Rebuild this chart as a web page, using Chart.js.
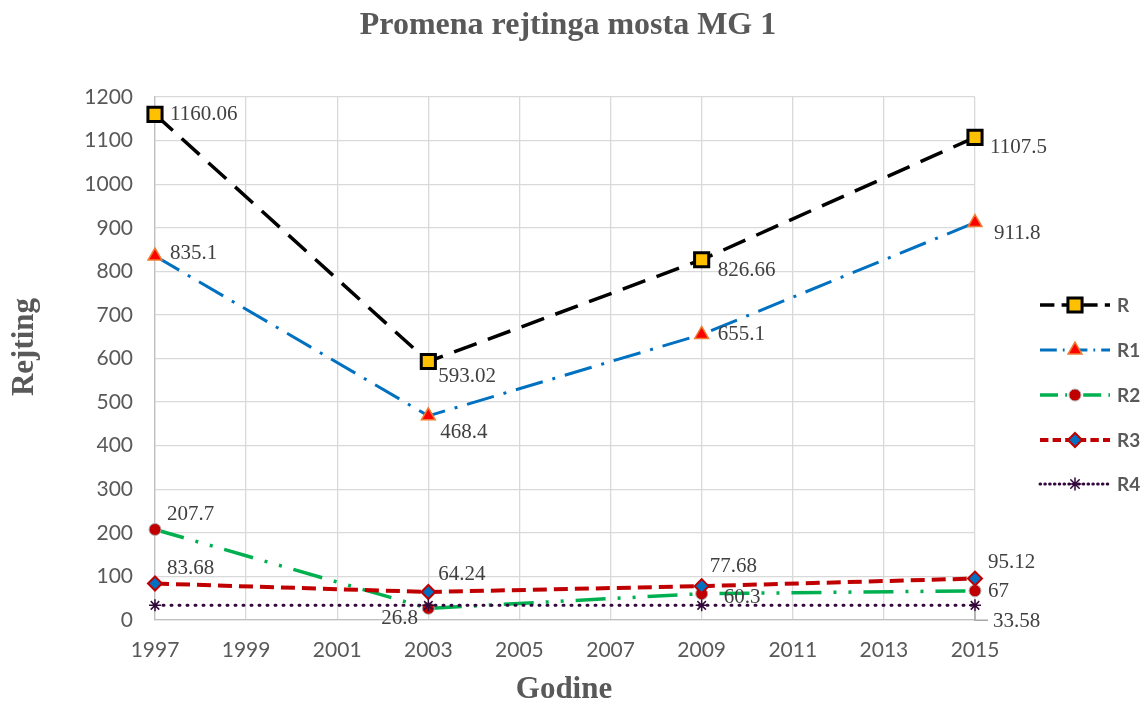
<!DOCTYPE html>
<html>
<head>
<meta charset="utf-8">
<script src="https://cdn.jsdelivr.net/npm/chart.js@4.4.1/dist/chart.umd.min.js"></script>
<style>
  html, body { margin: 0; padding: 0; background: #fff; }
  #wrap { width: 1147px; height: 706px; }
</style>
</head>
<body>
<div id="wrap"><canvas id="rejtingChart"></canvas></div>
<script>
// podaci
const godine = [1997, 2003, 2009, 2015];
const seriesR = [1160.06, 593.02, 826.66, 1107.5];
const seriesR1 = [835.1, 468.4, 655.1, 911.8];
const seriesR2 = [207.7, 26.8, 60.3, 67];
const seriesR3 = [83.68, 64.24, 77.68, 95.12];
const seriesR4 = [33.58, 33.58, 33.58, 33.58];
const seriesNames = ['R', 'R1', 'R2', 'R3', 'R4'];
const yTicks = [0, 100, 200, 300, 400, 500, 600, 700, 800, 900, 1000, 1100, 1200];
const xTicks = [1997, 1999, 2001, 2003, 2005, 2007, 2009, 2011, 2013, 2015];

const naslov = 'Promena rejtinga mosta MG 1';
const xNaslov = 'Godine';
const yNaslov = 'Rejting';

const gray = '#595959';
const serif = '"Liberation Serif", "Times New Roman", serif';

function toPoints(values) {
  return values.map((v, i) => ({ x: godine[i], y: v }));
}

// label offsets (dx, dy from point), null = no label
const labelOffsets = [
  [[15, 0], [10, 15], [16, 11], [15, 10]],
  [[15, -3], [12, 17], [16, 0], [19, 11]],
  [[12, -15], [-47, 10], [22, 4], [13, 1]],
  [[12, -15], [10, -18], [8, -20], [13, -16]],
  [null, null, null, [18, 16]]
];

const styles = [
  { color: '#000000', width: 3.5, dash: [24, 12], point: 'rect', radius: 10, fill: '#FFC000', border: '#000000', bw: 3 },
  { color: '#0070C0', width: 3, dash: [28, 10, 3, 10], point: 'triangle', radius: 8, fill: '#FF0000', border: '#ED7D31', bw: 1.5 },
  { color: '#00B050', width: 3.5, dash: [30, 12, 3, 12, 3, 12], point: 'circle', radius: 6, fill: '#C00000', border: '#B0B0B0', bw: 1 },
  { color: '#C00000', width: 4, dash: [14, 7], point: 'rectRot', radius: 7, fill: '#0070C0', border: '#C00000', bw: 2 },
  { color: '#33083A', width: 3, dash: [1, 7], point: 'star', radius: 6, fill: '#33083A', border: '#33083A', bw: 1.5 }
];

const allSeries = [seriesR, seriesR1, seriesR2, seriesR3, seriesR4];

const datasets = allSeries.map((s, i) => ({
  label: seriesNames[i],
  data: toPoints(s),
  borderColor: styles[i].color,
  borderWidth: styles[i].width,
  borderDash: styles[i].dash,
  borderCapStyle: i === 4 ? 'round' : 'butt',
  pointStyle: styles[i].point,
  pointRadius: styles[i].radius,
  pointBackgroundColor: styles[i].fill,
  pointBorderColor: styles[i].border,
  pointBorderWidth: styles[i].bw,
  tension: 0,
  clip: false,
  order: 5 - i
}));

// data labels
const labelPlugin = {
  id: 'labele',
  afterDatasetsDraw(chart) {
    const ctx = chart.ctx;
    ctx.save();
    ctx.font = '21px ' + serif;
    ctx.fillStyle = '#404040';
    ctx.textAlign = 'left';
    ctx.textBaseline = 'middle';
    chart.data.datasets.forEach((ds, di) => {
      const meta = chart.getDatasetMeta(di);
      meta.data.forEach((pt, i) => {
        const off = labelOffsets[di][i];
        if (!off) return;
        const val = allSeries[di][i];
        ctx.fillText(String(val), pt.x + off[0], pt.y + off[1]);
        if (di === 4) {
          // leader line
          ctx.strokeStyle = '#a6a6a6';
          ctx.lineWidth = 1.5;
          ctx.beginPath();
          ctx.moveTo(pt.x, pt.y + 6);
          ctx.lineTo(pt.x, pt.y + 15);
          ctx.lineTo(pt.x + 13, pt.y + 15);
          ctx.stroke();
        }
      });
    });
    ctx.restore();
  }
};

// titles (chart + axes)
const titlePlugin = {
  id: 'naslovi',
  afterDraw(chart) {
    const ctx = chart.ctx;
    ctx.save();
    ctx.fillStyle = gray;
    ctx.textAlign = 'center';
    ctx.textBaseline = 'middle';
    ctx.font = 'bold 32px ' + serif;
    ctx.fillText(naslov, 568, 26);
    ctx.font = 'bold 31px ' + serif;
    ctx.fillText(xNaslov, 564, 690);
    ctx.translate(25, 347);
    ctx.rotate(-Math.PI / 2);
    ctx.fillText(yNaslov, 0, 0);
    ctx.restore();
  }
};

// legend on the right
const legendPlugin = {
  id: 'legenda',
  afterDraw(chart) {
    const ctx = chart.ctx;
    const rows = [305, 350, 395, 440, 484];
    ctx.save();
    seriesNames.forEach((name, i) => {
      const st = styles[i];
      const y = rows[i];
      ctx.strokeStyle = st.color;
      ctx.lineWidth = st.width;
      ctx.setLineDash(st.dash.map(d => d * 0.6));
      ctx.lineCap = i === 4 ? 'round' : 'butt';
      ctx.beginPath();
      ctx.moveTo(1040, y);
      ctx.lineTo(1110, y);
      ctx.stroke();
      ctx.setLineDash([]);
      ctx.fillStyle = st.fill;
      ctx.strokeStyle = st.border;
      ctx.lineWidth = st.bw;
      if (Chart.helpers && Chart.helpers.drawPoint) {
        Chart.helpers.drawPoint(ctx, { pointStyle: st.point, radius: st.radius, rotation: 0, borderWidth: st.bw }, 1075, y);
      }
      ctx.fillStyle = gray;
      ctx.font = 'bold 19px Lato, "Open Sans", sans-serif';
      ctx.textAlign = 'left';
      ctx.textBaseline = 'middle';
      ctx.fillText(name, 1117, y + 1);
    });
    ctx.restore();
  }
};

const ctx = document.getElementById('rejtingChart').getContext('2d');

new Chart(ctx, {
  type: 'line',
  data: { datasets: datasets },
  plugins: [labelPlugin, legendPlugin, titlePlugin],
  options: {
    responsive: true,
    maintainAspectRatio: false,
    animation: false,
    layout: { padding: { left: 0, right: 172, top: 97, bottom: 0 } },
    plugins: {
      legend: { display: false },
      tooltip: { enabled: false },
      title: { display: false }
    },
    scales: {
      x: {
        type: 'linear',
        min: 1997,
        max: 2015,
        afterBuildTicks(scale) {
          scale.ticks = xTicks.map(v => ({ value: v }));
        },
        afterFit(scale) { scale.height = 86; },
        grid: { color: '#d9d9d9', lineWidth: 1.3, drawTicks: false },
        border: { color: '#bfbfbf', width: 1.3 },
        ticks: {
          color: gray,
          padding: 18,
          font: { family: 'Lato, "Open Sans", sans-serif', size: 21 },
          callback: v => String(v)
        }
      },
      y: {
        min: 0,
        max: 1200,
        afterBuildTicks(scale) {
          scale.ticks = yTicks.map(v => ({ value: v }));
        },
        afterFit(scale) { scale.width = 155; },
        grid: { color: '#d9d9d9', lineWidth: 1.3, drawTicks: false },
        border: { color: '#bfbfbf', width: 1.3 },
        ticks: {
          color: gray,
          padding: 22,
          font: { family: 'Lato, "Open Sans", sans-serif', size: 21 },
          callback: v => String(v)
        }
      }
    }
  }
});
</script>
</body>
</html>
